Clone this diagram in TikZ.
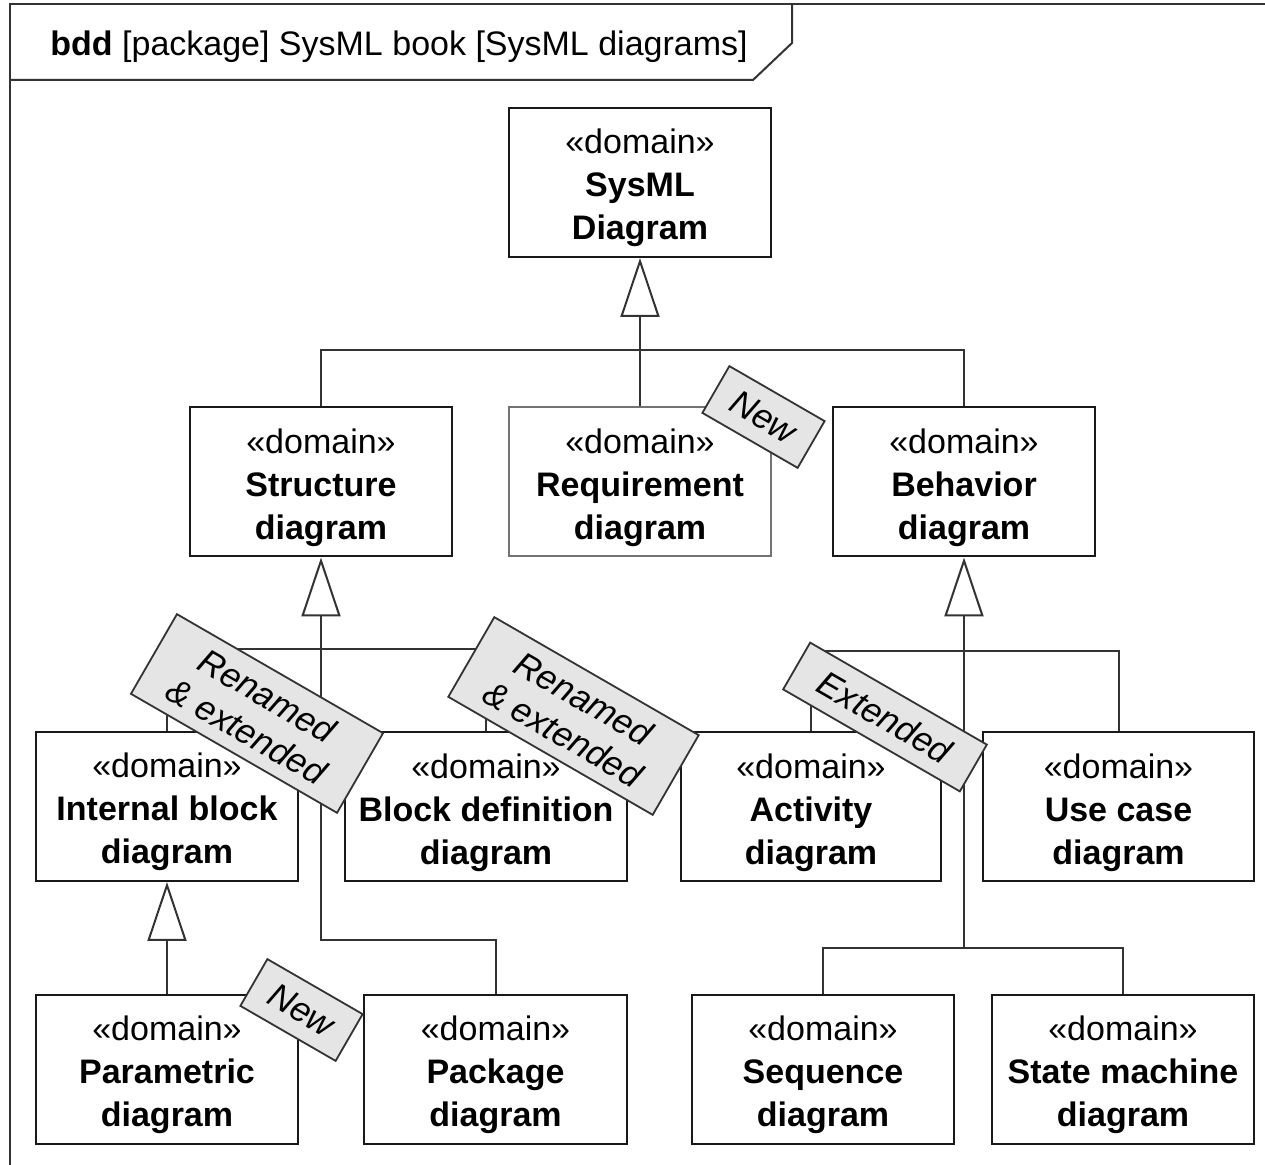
\documentclass[tikz,border=0pt]{standalone}
\usepackage{fontspec}
\setmainfont{Liberation Sans}
\usetikzlibrary{arrows.meta}
% stereotype line with extra headroom so the three lines sit a little lower
\newcommand{\domainstereo}{\rule{0pt}{18pt}«domain»}
\begin{document}
\begin{tikzpicture}[x=0.5pt,y=-0.5pt,
  every node/.style={font=\fontsize{17}{21.5}\selectfont},
  blk/.style={draw=black!90, line width=1pt, fill=white, inner sep=0pt,
              minimum height=74.5pt, align=center},
  conn/.style={draw=black!80, line width=1pt},
  gen/.style={conn, -{Triangle[length=29.5pt,width=19.5pt,fill=white]}},
  tag/.style={draw=black!80, line width=0.9pt, fill=black!10, rotate=-30,
              inner sep=0pt, align=center,
              font=\fontsize{17.5}{20.5}\selectfont\itshape}]
\useasboundingbox (0,0) rectangle (1265,1165);

% diagram frame and its heading tab
\draw[line width=1pt, draw=black!80] (10,1165) -- (10,4) -- (1265,4);
\draw[line width=1pt, draw=black!80] (10,80) -- (753,80) -- (792,43) -- (792,4);
\node[anchor=base west, inner sep=0pt] (title) at (50,56)
  {\textbf{bdd} [package] SysML book [SysML diagrams]};

% blocks
\node[blk, minimum width=131pt] (sysml) at (640,182.5) {\domainstereo\\\textbf{SysML}\\\textbf{Diagram}};
\node[blk, minimum width=131pt] (struct) at (321,482) {\domainstereo\\\textbf{Structure}\\\textbf{diagram}};
\node[blk, minimum width=131pt, draw=black!55] (req) at (640,482) {\domainstereo\\\textbf{Requirement}\\\textbf{diagram}};
\node[blk, minimum width=131pt] (behav) at (964,482) {\domainstereo\\\textbf{Behavior}\\\textbf{diagram}};
\node[blk, minimum width=131pt] (ibd) at (167,806.5) {\domainstereo\\\textbf{Internal block}\\\textbf{diagram}};
\node[blk, minimum width=141pt] (bdd) at (486,807) {\domainstereo\\\textbf{Block definition}\\\textbf{diagram}};
\node[blk, minimum width=130pt] (act) at (811,807) {\domainstereo\\\textbf{Activity}\\\textbf{diagram}};
\node[blk, minimum width=135.5pt] (uc) at (1118.5,807) {\domainstereo\\\textbf{Use case}\\\textbf{diagram}};
\node[blk, minimum width=131pt] (par) at (167,1069.5) {\domainstereo\\\textbf{Parametric}\\\textbf{diagram}};
\node[blk, minimum width=131.5pt] (pkg) at (495.5,1069.5) {\domainstereo\\\textbf{Package}\\\textbf{diagram}};
\node[blk, minimum width=131pt] (seq) at (823,1069.5) {\domainstereo\\\textbf{Sequence}\\\textbf{diagram}};
\node[blk, minimum width=131pt] (stm) at (1123,1069.5) {\domainstereo\\\textbf{State machine}\\\textbf{diagram}};

% junction points of the generalization trees
\coordinate (jtop) at (640,350);
\coordinate (jstr) at (321,649);
\coordinate (jpkg) at (321,940);
\coordinate (jbeh) at (964,651);
\coordinate (jseq) at (964,948);

% generalizations
\draw[gen] (jtop) -- (sysml.south);
\draw[conn] (struct.north) |- (jtop) -| (behav.north);
\draw[conn] (req.north) -- (jtop);

\draw[gen] (jstr) -- (struct.south);
\draw[conn] (ibd.north) |- (jstr) -| (bdd.north);
\draw[conn] (jstr) -- (jpkg) -| (pkg.north);

\draw[gen] (jbeh) -- (behav.south);
\draw[conn] (act.north) |- (jbeh) -| (uc.north);
\draw[conn] (jbeh) -- (jseq);
\draw[conn] (seq.north) |- (jseq) -| (stm.north);

\draw[gen] (par.north) -- (ibd.south);

% change tags
\node[tag, minimum width=55pt, minimum height=27pt] (tagreq) at (763.5,417) {New};
\node[tag, minimum width=119pt, minimum height=46pt] (tagibd) at (257,713.5) {Renamed\\\& extended};
\node[tag, minimum width=118pt, minimum height=46pt] (tagbdd) at (573.5,716) {Renamed\\\& extended};
\node[tag, minimum width=102pt, minimum height=27pt] (tagact) at (885,717) {Extended};
\node[tag, minimum width=55pt, minimum height=27pt] (tagpar) at (301.5,1010) {New};
\end{tikzpicture}
\end{document}
